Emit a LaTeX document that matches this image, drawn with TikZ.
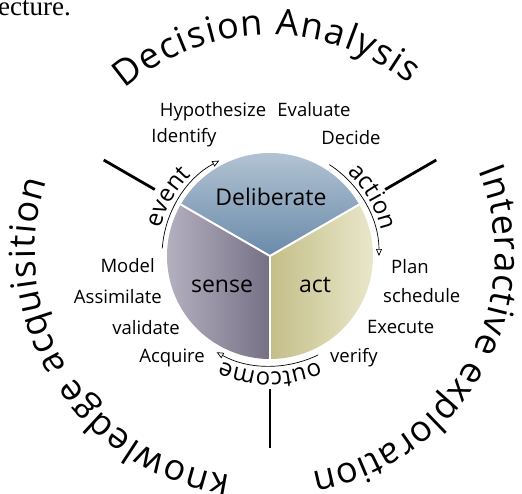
\documentclass[tikz,border=0pt]{standalone}
\usepackage{fontspec}
\setmainfont{Open Sans}
\newfontfamily\docserif{Liberation Serif}
\usetikzlibrary{arrows.meta,decorations.text,calc}
\definecolor{delibTop}{HTML}{BCCBD9}
\definecolor{delibBot}{HTML}{6A8AA9}
\definecolor{senseL}{HTML}{BDB9C8}
\definecolor{senseR}{HTML}{767085}
\definecolor{actL}{HTML}{C4BE88}
\definecolor{actR}{HTML}{E9E7CA}
\tikzset{
  lbl/.style={font=\fontsize{18.5}{18.5}\selectfont, inner sep=0pt},
  pielbl/.style={font=\fontsize{23}{23}\selectfont, inner sep=0pt, anchor=base},
  bar/.style={line width=2.8pt},
  flow/.style={line width=0.7pt, -{Triangle[open, length=7pt, width=6pt]}},
  sepline/.style={white, line width=2pt},
}
\begin{document}
\begin{tikzpicture}[x=1pt,y=1pt]
\useasboundingbox (-270,-237) rectangle (252,256);
% cut-off document text
\node[anchor=base west, inner sep=0pt, font=\docserif\fontsize{27}{27}\selectfont] (doc) at (-272,240) {ecture.};
% pie
\coordinate (C) at (0,0);
\shade[top color=delibTop, bottom color=delibBot] (C) -- (30:103) arc[start angle=30, end angle=150, radius=103] -- cycle;
\shade[left color=senseL, right color=senseR] (C) -- (150:103) arc[start angle=150, end angle=270, radius=103] -- cycle;
\shade[left color=actL, right color=actR] (C) -- (270:103) arc[start angle=270, end angle=390, radius=103] -- cycle;
\draw[sepline] (C) -- (30:103);
\draw[sepline] (C) -- (150:103);
\draw[sepline] (C) -- (270:103);
\node[pielbl] (delib) at (1,51) {Deliberate};
\node[pielbl] (sense) at (-48,-36) {sense};
\node[pielbl] (act) at (45,-36) {act};
% radial bars
\draw[bar] (150:133) -- (150:192);
\draw[bar] (30:133) -- (30:192);
\draw[bar] (270:133) -- (270:192);
% flow arcs
\draw[flow] (176:108) arc[start angle=176, end angle=118, radius=108];
\draw[flow] (57:109) arc[start angle=57, end angle=0, radius=109];
\draw[flow] (-64:110) arc[start angle=-64, end angle=-119, radius=110];
\path[decorate, decoration={text along path, text align=center,
  text={|\fontsize{24}{24}\selectfont|event}}] (190:113) arc[start angle=190, end angle=110, radius=113];
\path[decorate, decoration={text along path, text align=center,
  text={|\fontsize{24}{24}\selectfont|action}}] (70:114) arc[start angle=70, end angle=-10, radius=114];
\path[decorate, decoration={text along path, text align=center,
  text={|\fontsize{24}{24}\selectfont|outcome}}] (-50:116) arc[start angle=-50, end angle=-130, radius=116];
% outer phrases
\coordinate (cR) at (3,2);
\coordinate (cL) at (-8,5);
\path[decorate, decoration={text along path, text align=fit to path,
  text={|\fontsize{36}{36}\selectfont|Decision Analysis}}] (131:221) arc[start angle=131, end angle=51, radius=221];
\path[decorate, decoration={text along path, text align=fit to path,
  text={|\fontsize{36}{36}\selectfont|Interactive exploration}}] ($(cR)+(22:222)$) arc[start angle=22, end angle=-80, radius=222];
\path[decorate, decoration={text along path, text align=fit to path,
  text={|\fontsize{36}{36}\selectfont|knowledge acquisition}}] ($(cL)+(-98:227)$) arc[start angle=-98, end angle=-198, radius=227];
% step labels
\node[lbl, anchor=base] (hyp) at (-57,140) {Hypothesize};
\node[lbl, anchor=base] (eva) at (44,140) {Evaluate};
\node[lbl, anchor=base] (ide) at (-86,114) {Identify};
\node[lbl, anchor=base] (dec) at (81,112) {Decide};
\node[lbl, anchor=base east] (mod) at (-115,-16) {Model};
\node[lbl, anchor=base east] (ass) at (-108,-47) {Assimilate};
\node[lbl, anchor=base east] (val) at (-90,-78) {validate};
\node[lbl, anchor=base east] (acq) at (-65,-106) {Acquire};
\node[lbl, anchor=base west] (pla) at (121,-17) {Plan};
\node[lbl, anchor=base west] (sch) at (113,-46) {schedule};
\node[lbl, anchor=base west] (exe) at (97,-77) {Execute};
\node[lbl, anchor=base west] (ver) at (60,-106) {verify};
\end{tikzpicture}
\end{document}
